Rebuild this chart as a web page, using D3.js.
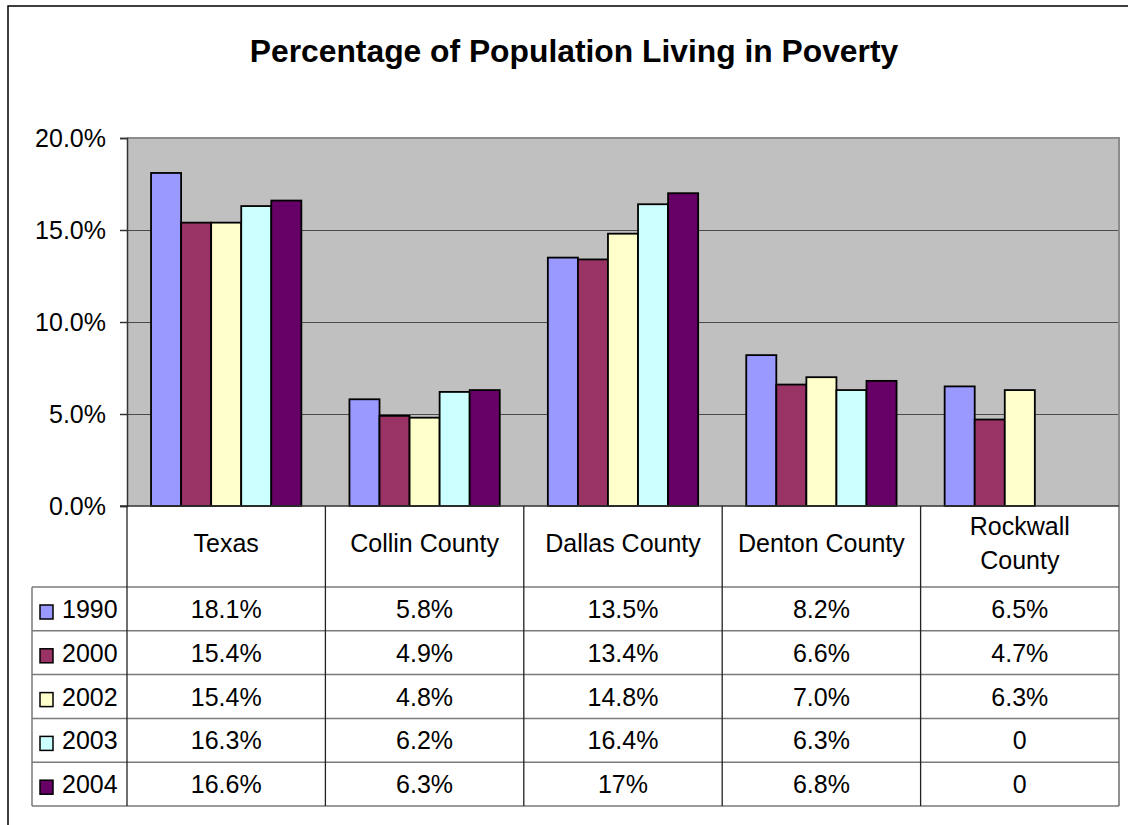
<!DOCTYPE html>
<html>
<head>
<meta charset="utf-8">
<script src="https://cdn.jsdelivr.net/npm/d3@7"></script>
<style>
  html, body { margin: 0; padding: 0; background: #fff; }
  svg { display: block; font-family: "Liberation Sans", Arial, sans-serif; }
</style>
</head>
<body>
<svg id="chart" width="1128" height="825"></svg>
<script>
// Poverty rates (percent) by area and year
const areas = ["Texas", "Collin County", "Dallas County", "Denton County", "Rockwall County"];
const years = ["1990", "2000", "2002", "2003", "2004"];
const rate1990 = [18.1, 5.8, 13.5, 8.2, 6.5];
const rate2000 = [15.4, 4.9, 13.4, 6.6, 4.7];
const rate2002 = [15.4, 4.8, 14.8, 7.0, 6.3];
const rate2003 = [16.3, 6.2, 16.4, 6.3, 0];
const rate2004 = [16.6, 6.3, 17.0, 6.8, 0];
const yTicks = [0, 5, 10, 15, 20];
const colors = ["#9999FF", "#993366", "#FFFFCC", "#CCFFFF", "#660066"];
// cells whose number format shows whole percents
const wholePercentCells = [["Dallas County", "2004"]];

const seriesValues = [rate1990, rate2000, rate2002, rate2003, rate2004];
const series = years.map((yr, i) => ({
  year: yr, color: colors[i],
  values: areas.map((a, j) => ({ area: a, year: yr, value: seriesValues[i][j] }))
}));

function cellText(d) {
  if (d.value === 0) return "0";
  const whole = wholePercentCells.some(c => c[0] === d.area && c[1] === d.year);
  return d3.format(whole ? ".0%" : ".1%")(d.value / 100);
}

const svg = d3.select("#chart");

// chart frame
svg.append("rect").attr("x", 8).attr("y", 6).attr("width", 1140).attr("height", 840)
  .attr("fill", "#fff").attr("stroke", "#000").attr("stroke-width", 1.5);

// title
svg.append("text").attr("x", 574).attr("y", 62).attr("text-anchor", "middle")
  .attr("font-weight", "bold").attr("font-size", 31.8).attr("fill", "#000")
  .text("Percentage of Population Living in Poverty");

const plot = { left: 127, right: 1119, top: 138, bottom: 506 };

const x = d3.scaleBand().domain(areas).range([plot.left, plot.right]).padding(0);
const xi = d3.scaleBand().domain(years).range([0, x.bandwidth()]).paddingInner(0).paddingOuter(0.8);
const y = d3.scaleLinear().domain([0, 20]).range([plot.bottom, plot.top]);

// plot area
svg.append("rect").attr("x", plot.left).attr("y", plot.top)
  .attr("width", plot.right - plot.left).attr("height", plot.bottom - plot.top)
  .attr("fill", "#C0C0C0");

// gridlines
svg.append("g").selectAll("line").data(yTicks.filter(t => t > 0 && t < 20)).join("line")
  .attr("x1", plot.left).attr("x2", plot.right)
  .attr("y1", d => Math.round(y(d)) + 0.5).attr("y2", d => Math.round(y(d)) + 0.5)
  .attr("stroke", "#4a4a4a").attr("stroke-width", 1);

// plot border (top and right)
svg.append("path")
  .attr("d", `M${plot.left},${plot.top}H${plot.right}V${plot.bottom}`)
  .attr("fill", "none").attr("stroke", "#8c8c8c").attr("stroke-width", 2);

// bars
const groups = svg.append("g").selectAll("g").data(series).join("g")
  .attr("fill", d => d.color);
groups.selectAll("rect").data(d => d.values.filter(v => v.value > 0)).join("rect")
  .attr("x", d => x(d.area) + xi(d.year))
  .attr("y", d => y(d.value))
  .attr("width", xi.bandwidth())
  .attr("height", d => y(0) - y(d.value))
  .attr("stroke", "#000").attr("stroke-width", 1.8);

// y axis
const yAxis = svg.append("g").attr("transform", `translate(${plot.left},0)`)
  .call(d3.axisLeft(y).tickValues(yTicks).tickFormat(d => d3.format(".1%")(d / 100))
    .tickSize(7).tickPadding(14));
yAxis.select(".domain").attr("stroke", "#333").attr("stroke-width", 1.5);
yAxis.selectAll(".tick line").attr("stroke", "#333").attr("stroke-width", 1.5);
yAxis.selectAll(".tick text").attr("font-size", 25).attr("fill", "#000")
  .attr("font-family", "Liberation Sans, Arial, sans-serif");

// baseline
svg.append("line").attr("x1", plot.left - 7).attr("x2", plot.right)
  .attr("y1", plot.bottom).attr("y2", plot.bottom)
  .attr("stroke", "#333").attr("stroke-width", 1.5);

// data table
const table = { legendLeft: 32, headerBottom: 587, bottom: 806 };
const rowH = (table.bottom - table.headerBottom) / years.length;
const rowY = i => table.headerBottom + i * rowH;
const tg = svg.append("g");

// horizontal rules
years.forEach((yr, i) => {
  tg.append("line").attr("x1", table.legendLeft).attr("x2", plot.right)
    .attr("y1", rowY(i)).attr("y2", rowY(i))
    .attr("stroke", "#7a7a7a").attr("stroke-width", 1.5);
});
tg.append("line").attr("x1", table.legendLeft).attr("x2", plot.right)
  .attr("y1", table.bottom).attr("y2", table.bottom)
  .attr("stroke", "#7a7a7a").attr("stroke-width", 1.5);

// vertical rules
const colEdges = areas.map(a => x(a)).concat([plot.right]);
colEdges.forEach((cx, i) => {
  tg.append("line").attr("x1", cx).attr("x2", cx)
    .attr("y1", plot.bottom).attr("y2", table.bottom)
    .attr("stroke", i === colEdges.length - 1 ? "#555" : "#222").attr("stroke-width", 1.3);
});
tg.append("line").attr("x1", table.legendLeft).attr("x2", table.legendLeft)
  .attr("y1", table.headerBottom).attr("y2", table.bottom)
  .attr("stroke", "#7a7a7a").attr("stroke-width", 1.5);

// header labels
const headerLines = { "Rockwall County": ["Rockwall", "County"] };
areas.forEach(a => {
  const cx = x(a) + x.bandwidth() / 2;
  const lines = headerLines[a] || [a];
  const t = tg.append("text").attr("text-anchor", "middle").attr("font-size", 25).attr("fill", "#000");
  if (lines.length === 1) {
    t.attr("x", cx).attr("y", 552).text(a);
  } else {
    lines.forEach((ln, k) => t.append("tspan").attr("x", cx).attr("y", 535 + k * 34).text(ln));
  }
});

// legend keys and values
series.forEach((s, i) => {
  const top = rowY(i);
  tg.append("rect").attr("x", 40).attr("y", top + 18).attr("width", 13).attr("height", 14)
    .attr("fill", s.color).attr("stroke", "#000").attr("stroke-width", 1.5);
  tg.append("text").attr("x", 62).attr("y", top + 31).attr("font-size", 25).attr("fill", "#000")
    .text(s.year);
  tg.selectAll(null).data(s.values).join("text")
    .attr("x", d => x(d.area) + x.bandwidth() / 2).attr("y", top + 31)
    .attr("text-anchor", "middle").attr("font-size", 25).attr("fill", "#000")
    .text(cellText);
});
</script>
</body>
</html>
